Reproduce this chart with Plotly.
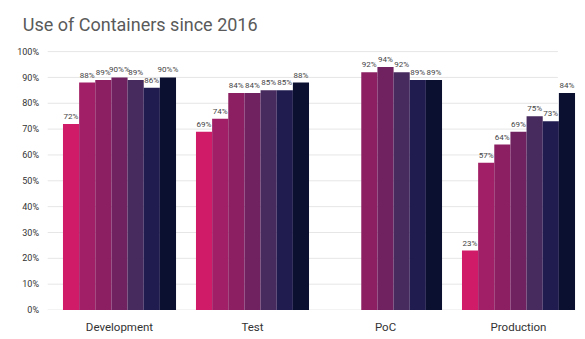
import plotly.graph_objects as go

# Container usage by environment, one series per survey year
categories = ["Development", "Test", "PoC", "Production"]
years = ["2016", "2017", "2018", "2019", "2020", "2021", "2022"]
usage = {
    "2016": [72, 69, None, 23],
    "2017": [88, 74, None, 57],
    "2018": [89, 84, 92, 64],
    "2019": [90, 84, 94, 69],
    "2020": [89, 85, 92, 75],
    "2021": [86, 85, 89, 73],
    "2022": [90, 88, 89, 84],
}
colors = ["#cf1b68", "#a11f66", "#8b1f62", "#6f2160", "#472a5e", "#211c50", "#0b1030"]
y_ticks = [0, 10, 20, 30, 40, 50, 60, 70, 80, 90, 100]

fig = go.Figure()
for year, color in zip(years, colors):
    fig.add_trace(go.Bar(
        name=year,
        x=categories,
        y=usage[year],
        marker=dict(color=color, line=dict(width=0)),
        texttemplate="%{y}%",
        textposition="outside",
        textangle=0,
        constraintext="none",
        cliponaxis=False,
        textfont=dict(family="Roboto", size=8, color="#444444"),
    ))

# light horizontal guides that stop short of the right edge
for v in y_ticks:
    fig.add_shape(type="line", xref="paper", yref="y", x0=-0.01, x1=0.949, y0=v, y1=v,
                  line=dict(color="#e6e6e6", width=1), layer="below")

fig.update_layout(
    width=585, height=339,
    margin=dict(l=53, r=0, t=49, b=29),
    paper_bgcolor="white", plot_bgcolor="white",
    barmode="group", bargap=0.15, bargroupgap=0,
    showlegend=False,
    title=dict(text="Use of Containers since 2016", x=0.039, xanchor="left",
               y=0.926, yanchor="middle",
               font=dict(family="Roboto", size=18, color="#5a5a5a")),
    xaxis=dict(showgrid=False, showline=False, zeroline=False,
               ticklabelstandoff=8,
               tickfont=dict(family="Roboto", size=11.5, color="#333333")),
    yaxis=dict(range=[0, 101], tickvals=y_ticks,
               ticktext=[f"{v}%" for v in y_ticks],
               showgrid=False, zeroline=False, showline=False,
               ticklabelstandoff=13,
               tickfont=dict(family="Roboto", size=9, color="#333333")),
)

fig.write_html("out.html")
